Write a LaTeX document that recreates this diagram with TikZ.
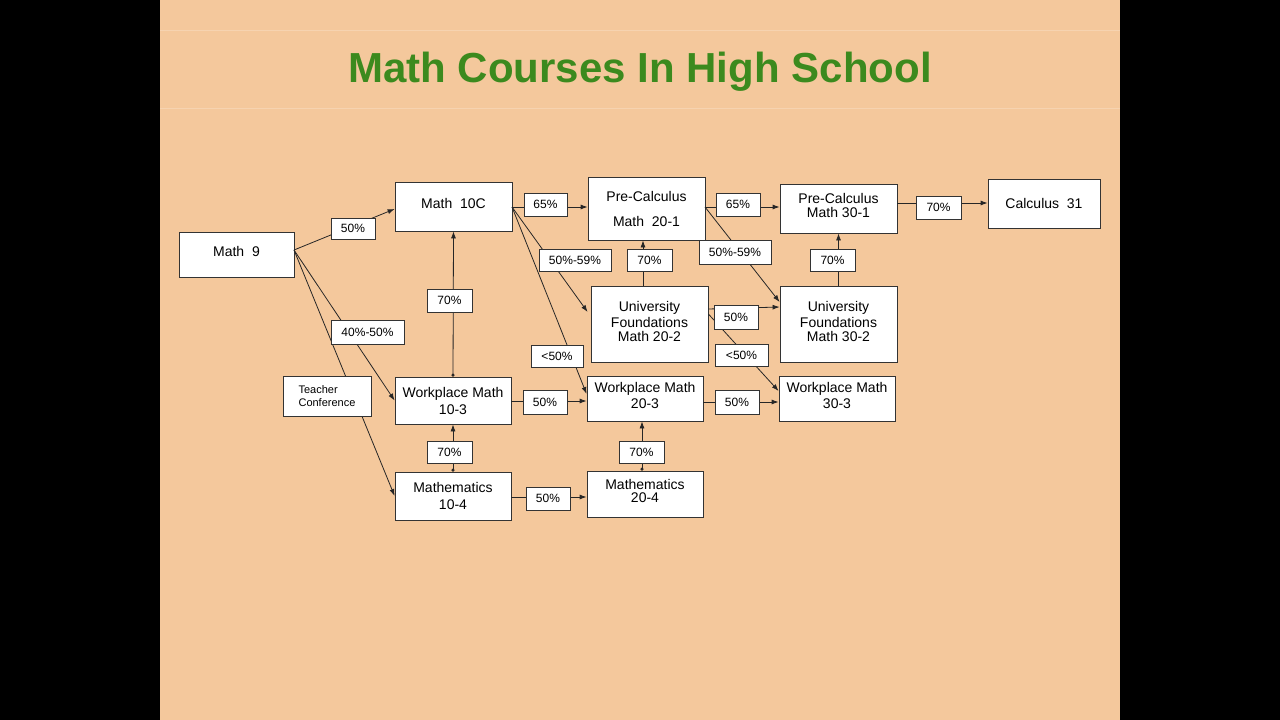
\documentclass[tikz,border=0pt]{standalone}
\usepackage{fontspec}
\setmainfont{Liberation Sans}
\usetikzlibrary{arrows.meta}
\definecolor{peach}{HTML}{F4C89C}
\definecolor{tgreen}{HTML}{3C8A1E}
\begin{document}
\begin{tikzpicture}[x=1pt,y=-1pt,
  box/.style={draw=black!80,fill=white,line width=0.8pt,align=center,font=\fontsize{14}{17}\selectfont,inner sep=0pt},
  lab/.style={draw=black!80,fill=white,line width=0.8pt,font=\fontsize{12}{14}\selectfont,inner sep=0pt},
  arr/.style={-{Latex[length=7pt,width=5pt]},line width=0.8pt,black!85},
  ln/.style={line width=0.8pt,black!85}]
\fill[black] (0,0) rectangle (1280,720);
\fill[peach] (160,0) rectangle (1120,720);
\draw[peach!80!white,line width=0.8pt] (160,30) -- (1120,30) (160,108) -- (1120,108);
\node[text=tgreen,font=\fontsize{42}{48}\selectfont\bfseries] (title) at (640,72) {Math Courses In High School};
% boxes
\newcommand\bx[6]{\node[box,minimum width=#3,minimum height=#4] (#1) at (#2) {#5};}
\node[box,minimum width=115,minimum height=45] (m9) at (236.5,254.5) {\raisebox{6pt}{Math\ \ 9}};
\node[box,minimum width=117,minimum height=49] (m10c) at (453.5,206.5) {\raisebox{6pt}{Math\ \ 10C}};
\node[box,minimum width=117,minimum height=63] (pc20) at (646.5,208.5) {Pre-Calculus\\[8pt]Math\ \ 20-1};
\node[box,minimum width=117,minimum height=49] (pc30) at (838.5,208.5) {\raisebox{6pt}{\shortstack{Pre-Calculus\\Math 30-1}}};
\node[box,minimum width=112,minimum height=49] (c31) at (1044,203.5) {Calculus\ \ 31};
\node[box,minimum width=117,minimum height=76] (uf20) at (649.5,324) {\raisebox{5pt}{\shortstack{University\\Foundations\\Math 20-2}}};
\node[box,minimum width=117,minimum height=76] (uf30) at (838.5,324) {\raisebox{5pt}{\shortstack{University\\Foundations\\Math 30-2}}};
\node[box,minimum width=116,minimum height=47] (wm10) at (453,400.5) {Workplace Math\\10-3};
\node[box,minimum width=116,minimum height=45] (wm20) at (645,398.5) {\raisebox{6pt}{\shortstack{Workplace Math\\20-3}}};
\node[box,minimum width=116,minimum height=45] (wm30) at (837,398.5) {\raisebox{6pt}{\shortstack{Workplace Math\\30-3}}};
\node[box,minimum width=116,minimum height=48] (m104) at (453,496) {Mathematics\\10-4};
\node[box,minimum width=116,minimum height=46] (m204) at (645,494) {\raisebox{6pt}{\shortstack{Mathematics\\20-4}}};
% connectors
\coordinate (m9o) at (294,250);
\draw[arr] (m9o) -- (m10c.west |- 0,209) coordinate (t1);
\draw[arr] (m9o) -- (wm10.west);
\draw[arr] (m9o) -- (m104.west);
\coordinate (m10o) at (512,207);
\draw[arr] (m10o) -- (pc20.west |- m10o);
\draw[arr] (m10o) -- ([xshift=-3pt]uf20.west |- 0,312);
\draw[arr] (m10o) -- (wm20.west |- 0,394);
\draw[arr] (uf20.north -| 643,0) -- (pc20.south -| 643,0);
\draw[arr,{Circle[length=3pt]}-{Latex[length=7pt,width=5pt]}] (wm10.north) -- (m10c.south);
\draw[arr,{Circle[length=3pt]}-{Latex[length=7pt,width=5pt]}] (m104.north) -- (wm10.south);
\draw[arr,{Circle[length=3pt]}-{Latex[length=7pt,width=5pt]}] (m204.north -| 642,0) -- (wm20.south -| 642,0);
\draw[arr] (wm10.east |- 0,401) -- (wm20.west |- 0,401);
\draw[arr] (m104.east |- 0,497) -- (m204.west |- 0,497);
\coordinate (p20o) at (705,207);
\draw[arr] (p20o) -- (pc30.west |- p20o);
\draw[arr] (p20o) -- (uf30.west |- 0,302);
\draw[arr] (uf30.north) -- (pc30.south);
\draw[arr] (uf20.east |- 0,309) -- (uf30.west |- 0,307);
\draw[arr] (uf20.east |- 0,314) -- (wm30.west |- 0,391);
\draw[arr] (wm20.east |- 0,402) -- (wm30.west |- 0,402);
\draw[arr] (pc30.east |- 0,203) -- (c31.west |- 0,203);
% labels
\node[lab,minimum width=44,minimum height=21] (l1) at (353,228.5) {50\%};
\node[lab,minimum width=73,minimum height=24] (l2) at (367.5,332) {40\%-50\%};
\node[box,minimum width=88,minimum height=40,font=\fontsize{11}{13}\selectfont,align=left] (tc) at (327,396) {Teacher\\Conference\hspace{20pt}};
\node[lab,minimum width=43,minimum height=23] (l3) at (545.5,204.5) {65\%};
\node[lab,minimum width=72,minimum height=22] (l4) at (575,260) {50\%-59\%};
\node[lab,minimum width=45,minimum height=22] (l5) at (649.5,260) {70\%};
\node[lab,minimum width=52,minimum height=22] (l6) at (557,356) {<50\%};
\node[lab,minimum width=44,minimum height=24] (l7) at (545,402) {50\%};
\node[lab,minimum width=45,minimum height=23] (l8) at (449.5,300.5) {70\%};
\node[lab,minimum width=45,minimum height=22] (l9) at (449.5,452) {70\%};
\node[lab,minimum width=44,minimum height=23] (l10) at (548,498.5) {50\%};
\node[lab,minimum width=45,minimum height=22] (l11) at (641.5,452) {70\%};
\node[lab,minimum width=44,minimum height=23] (l12) at (738,204.5) {65\%};
\node[lab,minimum width=72,minimum height=24] (l13) at (735,252) {50\%-59\%};
\node[lab,minimum width=45,minimum height=22] (l14) at (832.5,260) {70\%};
\node[lab,minimum width=44,minimum height=24] (l15) at (736,317) {50\%};
\node[lab,minimum width=53,minimum height=22] (l16) at (741.5,355) {<50\%};
\node[lab,minimum width=44,minimum height=24] (l17) at (737,402) {50\%};
\node[lab,minimum width=45,minimum height=23] (l18) at (938.5,207.5) {70\%};
\end{tikzpicture}
\end{document}
